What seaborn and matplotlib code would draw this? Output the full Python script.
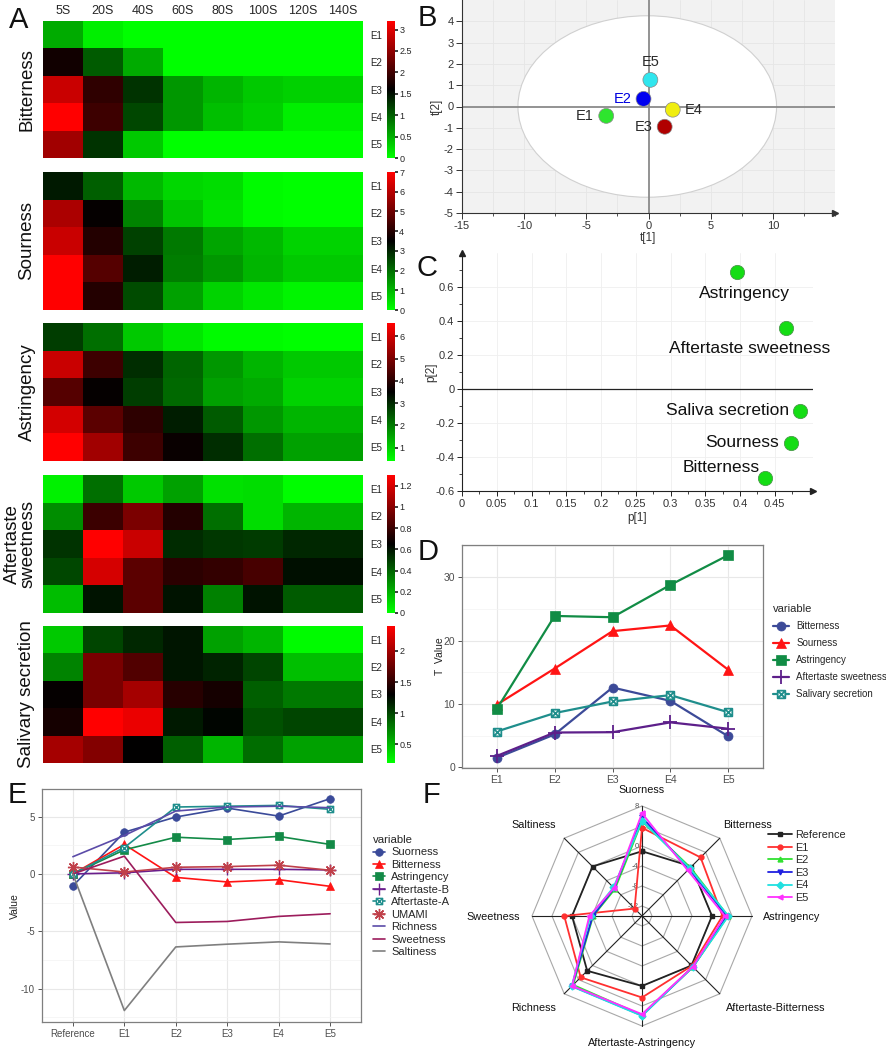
import numpy as np
import pandas as pd
import matplotlib
matplotlib.use("Agg")
import matplotlib.pyplot as plt
import seaborn as sns
from matplotlib.colors import LinearSegmentedColormap
from matplotlib.patches import Ellipse
from matplotlib.path import Path
from matplotlib.lines import Line2D

# ---------------- data ----------------
times = ["5S", "20S", "40S", "60S", "80S", "100S", "120S", "140S"]
samples = ["E1", "E2", "E3", "E4", "E5"]

bitterness_hm = [
    [0.53, 0.10, 0.00, 0.00, 0.00, 0.00, 0.00, 0.00],
    [1.70, 1.03, 0.53, 0.00, 0.00, 0.00, 0.00, 0.00],
    [2.85, 1.90, 1.28, 0.66, 0.47, 0.35, 0.30, 0.30],
    [3.20, 1.98, 1.16, 0.66, 0.41, 0.31, 0.10, 0.10],
    [2.60, 1.28, 0.35, 0.00, 0.00, 0.00, 0.00, 0.00]]
sourness_hm = [
    [3.16, 2.20, 0.96, 0.55, 0.48, 0.07, 0.00, 0.00],
    [5.83, 3.57, 1.72, 0.82, 0.41, 0.07, 0.02, 0.00],
    [6.24, 3.98, 2.60, 1.85, 1.24, 0.96, 0.62, 0.62],
    [7.00, 4.67, 3.09, 1.78, 1.44, 1.03, 0.75, 0.75],
    [7.00, 3.98, 2.47, 1.30, 0.62, 0.34, 0.14, 0.14]]
astringency_hm = [
    [2.77, 2.16, 1.07, 0.70, 0.46, 0.45, 0.40, 0.40],
    [5.93, 4.23, 2.95, 2.28, 1.68, 1.31, 1.07, 1.07],
    [4.53, 3.56, 2.77, 2.22, 1.55, 1.43, 0.95, 0.95],
    [6.05, 4.60, 4.05, 3.14, 2.40, 1.68, 1.31, 1.31],
    [6.60, 5.45, 4.23, 3.62, 2.95, 2.16, 1.55, 1.55]]
aftertaste_sweet_hm = [
    [0.04, 0.37, 0.14, 0.24, 0.08, 0.09, 0.01, 0.01],
    [0.29, 0.80, 0.96, 0.74, 0.37, 0.09, 0.19, 0.19],
    [0.52, 1.30, 1.16, 0.54, 0.51, 0.50, 0.55, 0.55],
    [0.47, 1.19, 0.88, 0.76, 0.78, 0.83, 0.61, 0.61],
    [0.17, 0.60, 0.88, 0.60, 0.32, 0.60, 0.42, 0.42]]
salivary_hm = [
    [0.44, 1.00, 1.13, 1.21, 0.61, 0.52, 0.22, 0.22],
    [0.74, 1.82, 1.65, 1.21, 1.15, 1.00, 0.48, 0.48],
    [1.32, 1.82, 2.01, 1.47, 1.39, 0.89, 0.78, 0.78],
    [1.39, 2.40, 2.31, 1.19, 1.28, 0.95, 1.00, 1.00],
    [2.01, 1.86, 1.30, 0.89, 0.52, 0.83, 0.61, 0.61]]
hm_names = ["Bitterness", "Sourness", "Astringency", "Aftertaste\nsweetness", "Salivary secretion"]
hm_ranges = [(0, 3.2), (0, 7), (0.4, 6.6), (0, 1.3), (0.2, 2.4)]
hm_ticks = [[0, 0.5, 1, 1.5, 2, 2.5, 3], [0, 1, 2, 3, 4, 5, 6, 7], [1, 2, 3, 4, 5, 6],
            [0, 0.2, 0.4, 0.6, 0.8, 1, 1.2], [0.5, 1, 1.5, 2]]

# B: PCA scores
score_labels = ["E1", "E2", "E3", "E4", "E5"]
score_t1 = [-3.4, -0.4, 1.3, 1.95, 0.15]
score_t2 = [-0.44, 0.36, -0.95, -0.15, 1.25]

# C: loadings
load_labels = ["Astringency", "Aftertaste sweetness", "Saliva secretion", "Sourness", "Bitterness"]
load_p1 = [0.395, 0.466, 0.487, 0.474, 0.436]
load_p2 = [0.686, 0.36, -0.128, -0.316, -0.525]

# D: T values
d_groups = ["E1", "E2", "E3", "E4", "E5"]
d_names = ["Bitterness", "Sourness", "Astringency", "Aftertaste sweetness", "Salivary secretion"]
d_bitterness = [1.5, 5.2, 12.6, 10.5, 4.9]
d_sourness = [9.9, 15.6, 21.5, 22.4, 15.4]
d_astringency = [9.2, 23.9, 23.7, 28.8, 33.5]
d_aftertaste_sweet = [1.8, 5.5, 5.55, 7.1, 6.1]
d_salivary = [5.66, 8.57, 10.4, 11.4, 8.7]

# E / F: e-tongue values
e_groups = ["Reference", "E1", "E2", "E3", "E4", "E5"]
e_names = ["Suorness", "Bitterness", "Astringency", "Aftertaste-B", "Aftertaste-A",
           "UMAMI", "Richness", "Sweetness", "Saltiness"]
e_suorness = [-1.05, 3.64, 4.96, 5.74, 5.04, 6.56]
e_bitterness = [0.0, 2.57, -0.3, -0.7, -0.5, -1.08]
e_astringency = [0.0, 2.1, 3.2, 3.0, 3.27, 2.57]
e_aftertaste_b = [0.0, 0.1, 0.4, 0.4, 0.4, 0.35]
e_aftertaste_a = [0.0, 2.3, 5.83, 5.9, 5.97, 5.63]
e_umami = [0.6, 0.17, 0.58, 0.64, 0.76, 0.32]
e_richness = [1.5, 3.35, 5.48, 5.83, 5.9, 5.77]
e_sweetness = [0.0, 1.55, -4.23, -4.14, -3.7, -3.47]
e_saltiness = [0.0, -11.9, -6.36, -6.12, -5.92, -6.1]
radar_axes = ["Suorness", "Bitterness", "Astringency", "Aftertaste-Bitterness",
              "Aftertaste-Astringency", "Richness", "Sweetness", "Saltiness"]
radar_ticks = [8, 0, -4, -8, -12]

# ---------------- setup ----------------
sns.set_theme(style="white")
plt.rcParams["font.family"] = ["Liberation Sans", "DejaVu Sans"]
plt.rcParams["axes.unicode_minus"] = False

W, H = 886, 1049
fig = plt.figure(figsize=(W / 100, H / 100), dpi=100)


def add_ax(x0, y0, x1, y1):
    return fig.add_axes([x0 / W, 1 - y1 / H, (x1 - x0) / W, (y1 - y0) / H])


def ftext(x, y, s, **kw):
    return fig.text(x / W, 1 - y / H, s, **kw)


# square-with-cross marker (ggplot shape 7)
sq_x = Path([(-1, -1), (1, -1), (1, 1), (-1, 1), (-1, -1), (-1, -1), (1, 1), (-1, 1), (1, -1)],
            [Path.MOVETO, Path.LINETO, Path.LINETO, Path.LINETO, Path.CLOSEPOLY,
             Path.MOVETO, Path.LINETO, Path.MOVETO, Path.LINETO])

# ---------------- A: heatmaps ----------------
cmap = LinearSegmentedColormap.from_list("gkr", ["#00ff00", "#000000", "#ff0000"])
hm_all = [bitterness_hm, sourness_hm, astringency_hm, aftertaste_sweet_hm, salivary_hm]
hm_rows = [(21, 158), (172, 310), (323, 461), (475, 613), (626, 763)]
for i, (name, vals, (vmin, vmax), ticks, (y0, y1)) in enumerate(
        zip(hm_names, hm_all, hm_ranges, hm_ticks, hm_rows)):
    ax = add_ax(43, y0, 363, y1)
    cax = add_ax(387, y0, 395, y1)
    df = pd.DataFrame(vals, index=samples, columns=times)
    sns.heatmap(df, ax=ax, cmap=cmap, vmin=vmin, vmax=vmax, cbar_ax=cax,
                xticklabels=True, yticklabels=True, linewidths=0)
    ax.yaxis.tick_right()
    ax.tick_params(axis="y", length=0, labelsize=7, pad=5, labelrotation=0)
    if i == 0:
        ax.xaxis.tick_top()
        ax.tick_params(axis="x", length=0, labelsize=9, pad=3, labelrotation=0)
    else:
        ax.set_xticks([])
    ax.set_xlabel("")
    ax.set_ylabel("")
    cb = ax.collections[0].colorbar
    cb.set_ticks(ticks)
    cb.set_ticklabels(["%g" % t for t in ticks])
    cb.outline.set_visible(False)
    cax.tick_params(labelsize=6.5, length=2, pad=1)
    xc = 20 if "\n" in name else 27
    ftext(xc, (y0 + y1) / 2, name, rotation=90, ha="center", va="center",
          fontsize=13.5, linespacing=0.9, color="#111")

# ---------------- B: scores ----------------
axB = add_ax(462, 0, 835, 213)
axB.set_facecolor("#f2f2f2")
axB.set_xlim(-15, 15)
axB.set_ylim(-5, 5)
axB.set_xticks([-15, -10, -5, 0, 5, 10])
axB.set_xticks(np.arange(-15, 15.1, 2.5), minor=True)
axB.set_yticks(np.arange(-5, 5, 1))
axB.grid(True, which="both", color="#e6e6e6", lw=0.6)
axB.set_axisbelow(True)
axB.add_patch(Ellipse((-0.1, 0), 20.8, 8.52, fc="white", ec="#d0d0d0", lw=0.8, zorder=1))
axB.axhline(0, color="#8a8a8a", lw=1.3, zorder=2)
axB.axvline(0, color="#8a8a8a", lw=1.3, zorder=2)
b_colors = {"E1": "#2ee52e", "E2": "#0000f0", "E3": "#b00000", "E4": "#f0ee10", "E5": "#30e6ee"}
sns.scatterplot(x=score_t1, y=score_t2, hue=score_labels, palette=b_colors, s=115,
                edgecolor="#888888", linewidth=0.5, legend=False, ax=axB, zorder=3)
b_offsets = {"E1": (-9, 0, "right", "center"), "E2": (-8.5, 0, "right", "center"),
             "E3": (-9, -0.5, "right", "center"), "E4": (8.5, -0.5, "left", "center"),
             "E5": (0, 8, "center", "bottom")}
for lab, tx, ty in zip(score_labels, score_t1, score_t2):
    dx, dy, ha, va = b_offsets[lab]
    axB.annotate(lab, (tx, ty), xytext=(dx, dy), textcoords="offset points",
                 ha=ha, va=va, fontsize=10.5, color="#0000e0" if lab == "E2" else "#2a2a2a", zorder=4)
for side in ["top", "right"]:
    axB.spines[side].set_visible(False)
for side in ["left", "bottom"]:
    axB.spines[side].set_color("#333333")
    axB.spines[side].set_linewidth(0.8)
axB.tick_params(which="major", direction="out", length=4, width=0.7, color="#333",
                labelsize=8, labelcolor="#333", pad=2, bottom=True, left=True)
axB.tick_params(which="minor", direction="out", length=2, width=0.6, color="#333", bottom=True, left=False)
axB.plot([1], [0], marker=">", ms=5, color="#333", transform=axB.transAxes, clip_on=False)
ftext(648, 238, "t[1]", ha="center", va="center", fontsize=8.5, color="#333")
ftext(437, 107, "t[2]", ha="center", va="center", rotation=90, fontsize=8.5, color="#333")

# ---------------- C: loadings ----------------
axC = add_ax(462, 253, 813, 491)
axC.set_xlim(0, 0.505)
axC.set_ylim(-0.6, 0.8)
xt = np.round(np.arange(0, 0.451, 0.05), 2)
axC.set_xticks(xt)
axC.set_xticklabels(["%g" % v for v in xt])
yt = np.round(np.arange(-0.6, 0.61, 0.2), 1)
axC.set_yticks(yt)
axC.set_yticklabels(["%g" % v for v in yt])
axC.set_xticks(np.arange(0, 0.5, 0.025), minor=True)
axC.set_yticks(np.arange(-0.6, 0.8, 0.1), minor=True)
axC.grid(True, which="major", color="#efefef", lw=0.6)
axC.set_axisbelow(True)
axC.axhline(0, color="#222", lw=0.9)
for side in ["top", "right"]:
    axC.spines[side].set_visible(False)
for side in ["left", "bottom"]:
    axC.spines[side].set_color("#222")
    axC.spines[side].set_linewidth(0.8)
axC.tick_params(which="major", direction="out", length=3.5, width=0.7, color="#222",
                labelsize=8, labelcolor="#333", pad=2, bottom=True, left=True)
axC.tick_params(which="minor", direction="out", length=2, width=0.6, color="#222", bottom=True, left=True)
axC.plot([1], [0], marker=">", ms=4.5, color="#222", transform=axC.transAxes, clip_on=False)
axC.plot([0], [1], marker="^", ms=4.5, color="#222", transform=axC.transAxes, clip_on=False)
sns.scatterplot(x=load_p1, y=load_p2, color="#14dd14", edgecolor="#4a9a4a", s=105,
                linewidth=0.6, ax=axC, zorder=3)
c_offsets = {"Astringency": (6, -15, "center", "center"),
             "Aftertaste sweetness": (-26, -15, "center", "center"),
             "Saliva secretion": (-8, 0, "right", "center"),
             "Sourness": (-9, 0, "right", "center"),
             "Bitterness": (-4, 8, "right", "center")}
for lab, px, py in zip(load_labels, load_p1, load_p2):
    dx, dy, ha, va = c_offsets[lab]
    axC.annotate(lab, (px, py), xytext=(dx, dy), textcoords="offset points",
                 ha=ha, va=va, fontsize=12.5, color="#111")
ftext(637, 518, "p[1]", ha="center", va="center", fontsize=8.5, color="#333")
ftext(431, 372, "p[2]", ha="center", va="center", rotation=90, fontsize=8.5, color="#333")


# ---------------- ggplot-like helper ----------------
def gg_style(ax, yticks, yminor, labelsize):
    ax.set_facecolor("white")
    for s in ax.spines.values():
        s.set_visible(True)
        s.set_color("#7f7f7f")
        s.set_linewidth(0.9)
    ax.set_yticks(yticks)
    ax.set_yticks(yminor, minor=True)
    ax.grid(True, which="major", color="#e8e8e8", lw=0.8)
    ax.grid(True, which="minor", axis="y", color="#f3f3f3", lw=0.5)
    ax.tick_params(axis="both", which="major", length=3, width=0.7, color="#555",
                   labelcolor="#4d4d4d", labelsize=labelsize, pad=2, bottom=True, left=True)
    ax.tick_params(which="minor", length=0)
    ax.set_axisbelow(True)
    ax.set_xlabel("")
    ax.set_ylabel("")


# ---------------- D: T values ----------------
axD = add_ax(462, 545, 763, 768)
d_vals = [d_bitterness, d_sourness, d_astringency, d_aftertaste_sweet, d_salivary]
d_style = [("#3C4A98", "o", 6.5, "#3C4A98"), ("#FF1414", "^", 7, "#FF1414"),
           ("#118C45", "s", 6.5, "#118C45"), ("#5D1F8A", "+", 10, "#5D1F8A"),
           ("#1F8E8C", sq_x, 5.5, "white")]
d_handles = []
for name, vals, (c, m, ms, fc) in zip(d_names, d_vals, d_style):
    mew = 1.3 if (m == "+" or fc == "white") else 0.5
    sns.lineplot(x=d_groups, y=vals, ax=axD, color=c, lw=1.6, sort=False, errorbar=None,
                 marker=m, markersize=ms, markeredgecolor=c, markerfacecolor=fc, markeredgewidth=mew)
    d_handles.append(Line2D([], [], color=c, lw=1.6, marker=m, markersize=ms,
                            markeredgecolor=c, markerfacecolor=fc, markeredgewidth=mew))
axD.set_xlim(-0.6, 4.6)
axD.set_ylim(-0.1, 35.1)
gg_style(axD, [0, 10, 20, 30], [5, 15, 25, 35], 7.5)
ftext(440, 656, "T  Value", rotation=90, ha="center", va="center", fontsize=7.5, color="#222")
fig.legend(d_handles, d_names, title="variable", loc="upper left",
           bbox_to_anchor=(773 / W, 1 - 604 / H), frameon=False, fontsize=7,
           title_fontsize=8, alignment="left", handlelength=1.6, handletextpad=0.8,
           labelspacing=0.72, borderpad=0, borderaxespad=0)

# ---------------- E: e-tongue lines ----------------
axE = add_ax(42, 789, 361, 1022)
e_vals = [e_suorness, e_bitterness, e_astringency, e_aftertaste_b, e_aftertaste_a,
          e_umami, e_richness, e_sweetness, e_saltiness]
e_style = [("#3A4A99", "o", 5.5, "#3A4A99"), ("#FF1414", "^", 6, "#FF1414"),
           ("#138A47", "s", 5.5, "#138A47"), ("#6A1E8C", "+", 8, "#6A1E8C"),
           ("#1F8E8C", sq_x, 4.5, "white"), ("#C0404A", (8, 2, 0), 8, "#C0404A"),
           ("#5B4BA8", None, 0, None), ("#9C1C5C", None, 0, None), ("#7F7F7F", None, 0, None)]
e_handles = []
for name, vals, (c, m, ms, fc) in zip(e_names, e_vals, e_style):
    kw = dict(color=c, lw=1.2)
    if m is not None:
        mew = 1.0 if (m == "+" or fc == "white" or isinstance(m, tuple)) else 0.5
        kw.update(marker=m, markersize=ms, markeredgecolor=c, markerfacecolor=fc, markeredgewidth=mew)
    sns.lineplot(x=e_groups, y=vals, ax=axE, sort=False, errorbar=None, **kw)
    e_handles.append(Line2D([], [], **kw))
axE.set_xlim(-0.6, 5.6)
axE.set_ylim(-12.9, 7.4)
gg_style(axE, [-10, -5, 0, 5], [-12.5, -7.5, -2.5, 2.5], 7)
ftext(15, 906, "Value", rotation=90, ha="center", va="center", fontsize=7.5, color="#222")
fig.legend(e_handles, e_names, title="variable", loc="upper left",
           bbox_to_anchor=(373 / W, 1 - 835 / H), frameon=False, fontsize=8,
           title_fontsize=8.2, alignment="left", handlelength=1.1, handletextpad=0.55,
           labelspacing=0.22, borderpad=0, borderaxespad=0)

# ---------------- F: radar ----------------
axF = add_ax(460, 780, 824, 1049)
axF.set_xlim(-36.4, 36.4)
axF.set_ylim(-26.6, 27.2)
axF.axis("off")
r0 = -14
rmax = 8 - r0
ang = np.deg2rad(90 - 45 * np.arange(8))
ca, sa = np.cos(ang), np.sin(ang)
for v in [-12, -8, -4, 0, 4, 8]:
    r = v - r0
    axF.plot(np.append(r * ca, r * ca[0]), np.append(r * sa, r * sa[0]), color="#a8a8a8", lw=0.8, zorder=1)
for cx, sy in zip(ca, sa):
    axF.plot([0, rmax * cx], [0, rmax * sy], color="#222", lw=0.8, zorder=2)
for v in radar_ticks:
    axF.text(-0.7, v - r0, "%g" % v, ha="right", va="center", fontsize=5.5, color="#555", zorder=2)
radar_src = [e_suorness, e_bitterness, e_astringency, e_aftertaste_b, e_aftertaste_a,
             e_richness, e_sweetness, e_saltiness]
f_style = [("#222222", "s"), ("#FF3030", "o"), ("#30E030", "^"), ("#2020E0", "v"),
           ("#20E0E0", "D"), ("#FF30FF", "<")]
f_handles = []
for gi, (g, (c, m)) in enumerate(zip(e_groups, f_style)):
    vals = np.array([arr[gi] for arr in radar_src])
    r = vals - r0
    xs = np.append(r * ca, r[0] * ca[0])
    ys = np.append(r * sa, r[0] * sa[0])
    axF.plot(xs, ys, color=c, lw=1.3, marker=m, ms=3.5, markeredgecolor=c, zorder=3 + gi)
    f_handles.append(Line2D([], [], color=c, lw=1.3, marker=m, ms=3.5))
f_label_pos = [(0, 25.2, "center"), (21, 18.2, "center"), (24.2, -0.2, "left"),
               (26.8, -18.4, "center"), (0, -25.4, "center"), (-21.6, -18.4, "center"),
               (-24.4, -0.2, "right"), (-21.6, 18.2, "center")]
for lab, (lx, ly, ha) in zip(radar_axes, f_label_pos):
    axF.text(lx, ly, lab, ha=ha, va="center", fontsize=7.8, color="#111", clip_on=False)
fig.legend(f_handles, e_groups, loc="upper left", bbox_to_anchor=(768 / W, 1 - 830 / H),
           frameon=False, fontsize=7.8, handlelength=2.2, handletextpad=0.3,
           labelspacing=0.24, borderpad=0, borderaxespad=0)

# ---------------- panel letters ----------------
for letter, x, y in [("A", 9, 28), ("B", 418, 26), ("C", 416, 276), ("D", 418, 560),
                     ("E", 8, 803), ("F", 423, 803)]:
    ftext(x, y, letter, fontsize=21, ha="left", va="baseline", color="#111")

fig.savefig("out.png", dpi=100)
